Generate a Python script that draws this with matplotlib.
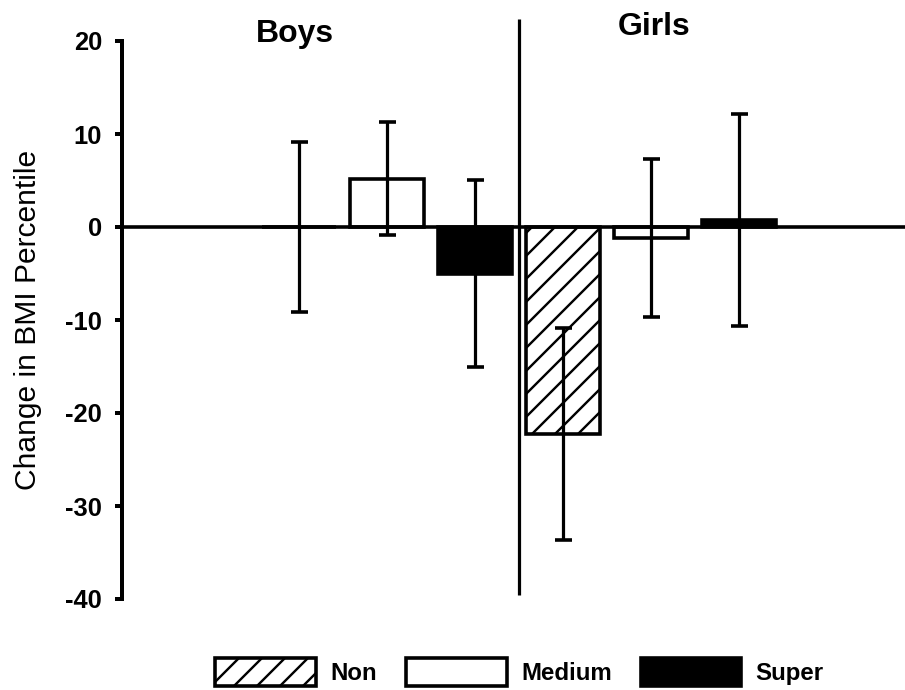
import numpy as np
import matplotlib
matplotlib.use("Agg")
import matplotlib.pyplot as plt
from matplotlib.patches import Patch

# Mean change in BMI percentile (with SD) by group and category
groups = ["Boys", "Girls"]
categories = ["Non", "Medium", "Super"]
boys_mean = [0.0, 5.2, -5.0]
boys_sd = [9.1, 6.1, 10.1]
girls_mean = [-22.3, -1.2, 0.8]
girls_sd = [11.4, 8.5, 11.4]
y_ticks = [-40, -30, -20, -10, 0, 10, 20]

DPI = 138
W, H = 905, 690


def px(v):
    """Convert a pixel size to points at the figure DPI."""
    return v * 72.0 / DPI


plt.rcParams["font.family"] = ["Liberation Sans", "DejaVu Sans"]
plt.rcParams["hatch.linewidth"] = px(2.4)

fig = plt.figure(figsize=(W / DPI, H / DPI), dpi=DPI)
ax = fig.add_axes([122 / W, 91 / H, (W - 122) / W, 558 / H])

styles = {
    "Non": dict(facecolor="white", hatch="//"),
    "Medium": dict(facecolor="white"),
    "Super": dict(facecolor="black"),
}

means = boys_mean + girls_mean
sds = boys_sd + girls_sd
labels = categories + categories
x = np.arange(len(means))

for xi, m, lab in zip(x, means, labels):
    ax.bar(xi, m, width=0.84, edgecolor="black", linewidth=px(3.6),
           joinstyle="miter", zorder=2, **styles[lab])

ax.axhline(0, color="black", lw=px(3.6), zorder=3)

ax.errorbar(x, means, yerr=sds, fmt="none", ecolor="black",
            elinewidth=px(3.2), capsize=px(8.5), capthick=px(3.6), zorder=4)

# Divider between the two groups
ax.plot([2.5, 2.5], [22.4, -39.6], color="black", lw=px(3.2),
        clip_on=False, zorder=4, solid_capstyle="butt")

ax.set_xlim(-2.011, 6.886)
ax.set_ylim(-40, 20)
ax.set_yticks(y_ticks)
ax.set_yticklabels([str(t) for t in y_ticks], fontsize=px(25.5),
                   fontweight="bold")
ax.tick_params(axis="y", length=px(7), width=px(4), pad=px(13))
ax.set_xticks([])
for s in ["top", "right", "bottom"]:
    ax.spines[s].set_visible(False)
ax.spines["left"].set_linewidth(px(4))

fig.text(28.5 / W, 1 - 320 / H, "Change in BMI Percentile", rotation=90,
         ha="center", va="center", fontsize=px(30))

fig.text(294.5 / W, 1 - 41.7 / H, groups[0], ha="center", va="baseline",
         fontsize=px(32), fontweight="bold")
fig.text(654.5 / W, 1 - 35 / H, groups[1], ha="center", va="baseline",
         fontsize=px(32), fontweight="bold")

handles = [Patch(edgecolor="black", linewidth=px(3.6), label=c, **styles[c])
           for c in categories]
leg = fig.legend(handles=handles, loc="center", ncol=3, frameon=False,
                 bbox_to_anchor=(519.5 / W, 1 - 672 / H),
                 prop={"weight": "bold", "size": px(24)},
                 handlelength=4.2, handleheight=1.4, handletextpad=0.6,
                 columnspacing=1.2, borderpad=0, borderaxespad=0)

fig.savefig("out.png", dpi=DPI)
